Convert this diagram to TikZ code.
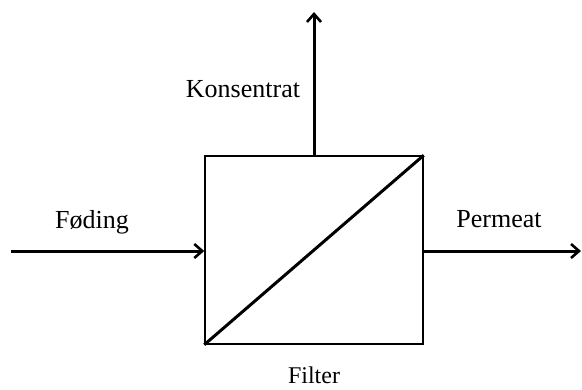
\documentclass[tikz,border=0pt]{standalone}
\usepackage{fontspec}
\setmainfont{Liberation Serif}
\usetikzlibrary{arrows.meta}
\begin{document}
\begin{tikzpicture}[x=1pt,y=-1pt,
  flow/.style={line width=3pt,-{Straight Barb[length=8pt,width=14pt,line width=2.6pt]}},
  unit/.style={draw,line width=1.5pt,minimum width=218pt,minimum height=188pt,inner sep=0pt},
  lbl/.style={anchor=base,font=\fontsize{26}{31}\selectfont,inner sep=0pt}]
  \useasboundingbox (0,0) rectangle (582,389);
  % filter unit with membrane
  \node[unit] (filter) at (314,250) {};
  \draw[line width=3pt] (filter.south west) -- (filter.north east);
  % stream end points
  \coordinate (feed) at (11,251);
  \coordinate (conc) at (314,12);
  \coordinate (perm) at (581,251);
  % streams
  \draw[flow] (feed) -- (feed -| filter.west);
  \draw[flow] (filter.north) -- (conc);
  \draw[flow] (perm -| filter.east) -- (perm);
  % labels
  \node[lbl] (lfeed) at (92,228) {Føding};
  \node[lbl] (lconc) at (243,97) {Konsentrat};
  \node[lbl] (lperm) at (499,227) {Permeat};
  \node[lbl,font=\fontsize{24}{29}\selectfont] (lfilt) at (314,383) {Filter};
\end{tikzpicture}
\end{document}
